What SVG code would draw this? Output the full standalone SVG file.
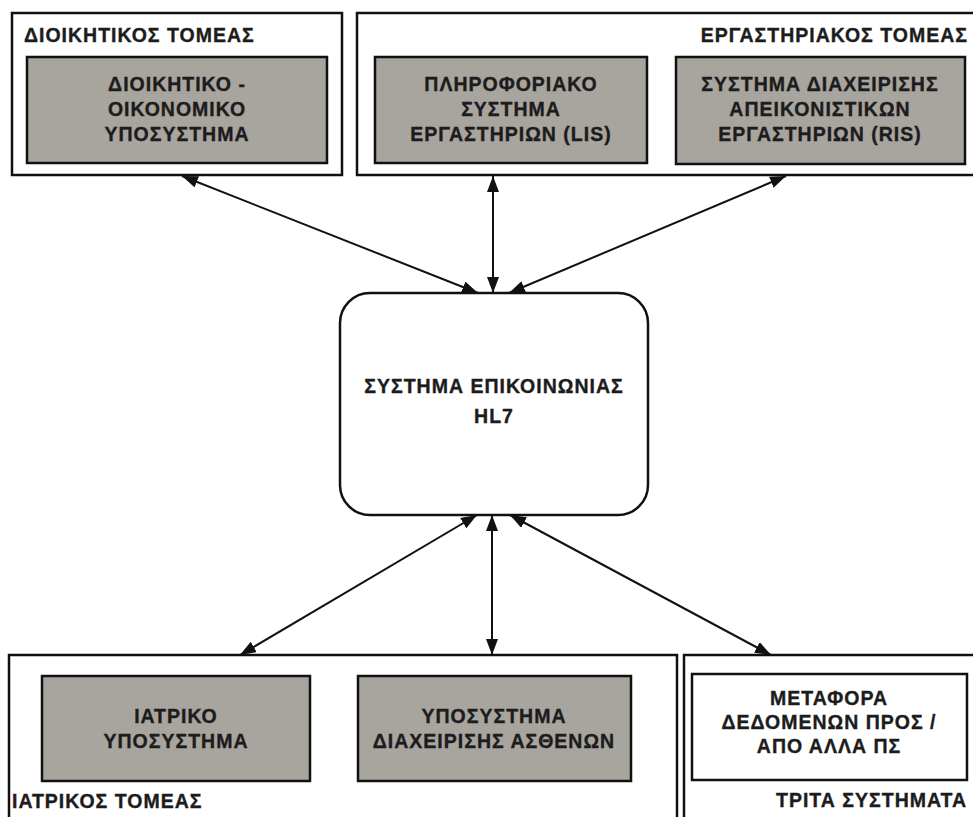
<svg xmlns="http://www.w3.org/2000/svg" width="973" height="817" viewBox="0 0 973 817">
  <defs>
    <style>
      .sector { fill: #ffffff; stroke: #111111; stroke-width: 2.5; }
      .module { fill: #a8a49e; stroke: #111111; stroke-width: 2.5; }
      .plain { fill: #ffffff; stroke: #111111; stroke-width: 2.5; }
      .hub { fill: #ffffff; stroke: #111111; stroke-width: 2.5; }
      text { font-family: "Liberation Sans", Arial, sans-serif; font-weight: bold; font-size: 19.5px; letter-spacing: 1px; fill: #1c1c1c; stroke: #1c1c1c; stroke-width: 0.35; }
      .c { text-anchor: middle; }
      .e { text-anchor: end; }
      .link { stroke: #111111; stroke-width: 2; fill: none; marker-start: url(#head); marker-end: url(#head); }
    </style>
    <marker id="head" viewBox="0 0 16 12" refX="16" refY="6" markerWidth="16" markerHeight="12" markerUnits="userSpaceOnUse" orient="auto-start-reverse">
      <path d="M0,0 L16,6 L0,12 z" fill="#111111"/>
    </marker>
  </defs>

  <rect width="973" height="817" fill="#ffffff"/>

  <!-- administrative sector -->
  <g id="admin-sector">
    <rect class="sector" x="12" y="13" width="330" height="162"/>
    <text x="24" y="42">ΔΙΟΙΚΗΤΙΚΟΣ ΤΟΜΕΑΣ</text>
  </g>
  <g id="admin-finance">
    <rect class="module" x="27" y="57" width="300" height="106"/>
    <text class="c" x="177" y="91">ΔΙΟΙΚΗΤΙΚΟ -</text>
    <text class="c" x="177" y="116">ΟΙΚΟΝΟΜΙΚΟ</text>
    <text class="c" x="177" y="141">ΥΠΟΣΥΣΤΗΜΑ</text>
  </g>

  <!-- laboratory sector -->
  <g id="lab-sector">
    <rect class="sector" x="357" y="13" width="620" height="162"/>
    <text class="e" x="968" y="42">ΕΡΓΑΣΤΗΡΙΑΚΟΣ ΤΟΜΕΑΣ</text>
  </g>
  <g id="lis">
    <rect class="module" x="375" y="57" width="272" height="106"/>
    <text class="c" x="511" y="91">ΠΛΗΡΟΦΟΡΙΑΚΟ</text>
    <text class="c" x="511" y="116">ΣΥΣΤΗΜΑ</text>
    <text class="c" x="511" y="141">ΕΡΓΑΣΤΗΡΙΩΝ (LIS)</text>
  </g>
  <g id="ris">
    <rect class="module" x="676" y="57" width="289" height="107"/>
    <text class="c" x="820" y="91">ΣΥΣΤΗΜΑ ΔΙΑΧΕΙΡΙΣΗΣ</text>
    <text class="c" x="820" y="116">ΑΠΕΙΚΟΝΙΣΤΙΚΩΝ</text>
    <text class="c" x="820" y="141">ΕΡΓΑΣΤΗΡΙΩΝ (RIS)</text>
  </g>

  <!-- HL7 communication hub -->
  <g id="hl7">
    <rect class="hub" x="340" y="293" width="308" height="222" rx="30" ry="30"/>
    <text class="c" x="494" y="393">ΣΥΣΤΗΜΑ ΕΠΙΚΟΙΝΩΝΙΑΣ</text>
    <text class="c" x="494" y="423">HL7</text>
  </g>

  <!-- medical sector -->
  <g id="medical-sector">
    <rect class="sector" x="9" y="655" width="668" height="170"/>
    <text x="12" y="808">ΙΑΤΡΙΚΟΣ ΤΟΜΕΑΣ</text>
  </g>
  <g id="clinical">
    <rect class="module" x="42" y="676" width="268" height="105"/>
    <text class="c" x="176" y="723">ΙΑΤΡΙΚΟ</text>
    <text class="c" x="176" y="748">ΥΠΟΣΥΣΤΗΜΑ</text>
  </g>
  <g id="patient-admin">
    <rect class="module" x="358" y="676" width="273" height="105"/>
    <text class="c" x="494" y="723">ΥΠΟΣΥΣΤΗΜΑ</text>
    <text class="c" x="494" y="748">ΔΙΑΧΕΙΡΙΣΗΣ ΑΣΘΕΝΩΝ</text>
  </g>

  <!-- third-party systems -->
  <g id="third-party-sector">
    <rect class="sector" x="684" y="655" width="293" height="170"/>
    <text class="e" x="967" y="807">ΤΡΙΤΑ ΣΥΣΤΗΜΑΤΑ</text>
  </g>
  <g id="data-exchange">
    <rect class="plain" x="692" y="674" width="275" height="106"/>
    <text class="c" x="829" y="705">ΜΕΤΑΦΟΡΑ</text>
    <text class="c" x="829" y="729">ΔΕΔΟΜΕΝΩΝ ΠΡΟΣ /</text>
    <text class="c" x="829" y="753">ΑΠΟ ΑΛΛΑ ΠΣ</text>
  </g>

  <!-- bidirectional HL7 links -->
  <g id="connectors">
    <line class="link" x1="182" y1="176" x2="478" y2="293"/>
    <line class="link" x1="493" y1="176" x2="493" y2="293"/>
    <line class="link" x1="786" y1="176" x2="509" y2="293"/>
    <line class="link" x1="477" y1="515" x2="240" y2="655"/>
    <line class="link" x1="492" y1="515" x2="492" y2="655"/>
    <line class="link" x1="510" y1="515" x2="771" y2="655"/>
  </g>
</svg>
